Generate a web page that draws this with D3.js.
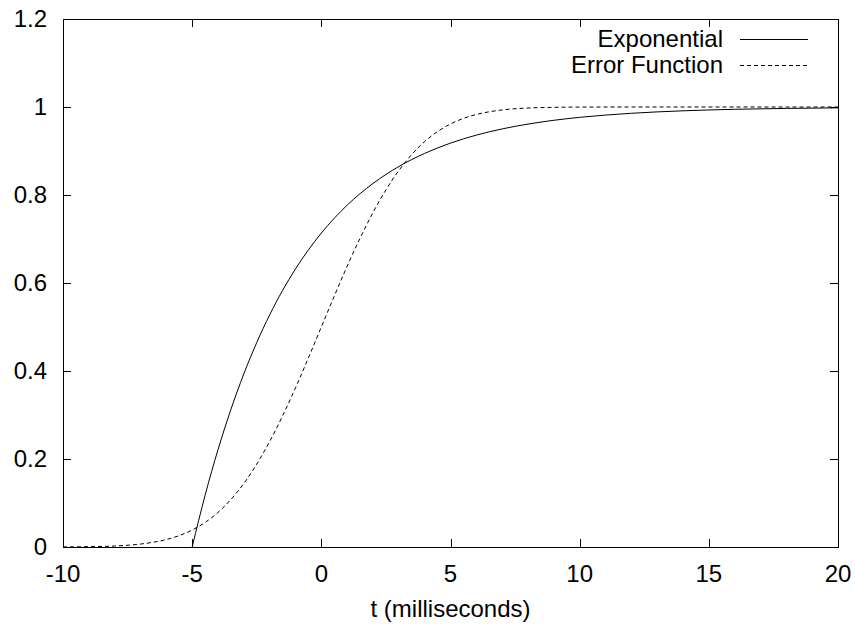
<!DOCTYPE html>
<html>
<head>
<meta charset="utf-8">
<script src="https://cdn.jsdelivr.net/npm/d3@7"></script>
<style>
  html, body { margin: 0; padding: 0; background: #fff; }
  svg { display: block; }
  text { font-family: "Liberation Sans", Arial, Helvetica, sans-serif; fill: #000; }
</style>
</head>
<body>
<svg id="chart" width="855" height="624"></svg>
<script>
// Time axis samples (milliseconds) and the two step responses
const expT = [-5, -4.5, -4, -3.5, -3, -2.5, -2, -1.5, -1, -0.5, 0, 1, 2, 3, 4, 5, 6, 7, 8, 9, 10, 12, 14, 16, 18, 20];
const expY = [0, 0.1175, 0.2212, 0.3127, 0.3935, 0.4647, 0.5276, 0.5831, 0.6321, 0.6753, 0.7135, 0.7769, 0.8262, 0.8647, 0.8946, 0.9179, 0.9361, 0.9502, 0.9612, 0.9698, 0.9765, 0.9857, 0.9913, 0.9948, 0.9968, 0.9981];

const erfT = [-10, -9, -8, -7, -6, -5.5, -5, -4.5, -4, -3.5, -3, -2.5, -2, -1.5, -1, -0.5, 0, 0.5, 1, 1.5, 2, 2.5, 3, 3.5, 4, 4.5, 5, 5.5, 6, 7, 8, 9, 10, 12, 14, 16, 18, 20];
const erfY = [0.0002, 0.0008, 0.0023, 0.0067, 0.0170, 0.0259, 0.0386, 0.0558, 0.0786, 0.1080, 0.1444, 0.1884, 0.2398, 0.2981, 0.3618, 0.4299, 0.5, 0.5701, 0.6382, 0.7019, 0.7602, 0.8116, 0.8556, 0.8920, 0.9214, 0.9442, 0.9614, 0.9741, 0.9830, 0.9933, 0.9977, 0.9992, 0.9998, 1.0, 1.0, 1.0, 1.0, 1.0];

const xTicks = [-10, -5, 0, 5, 10, 15, 20];
const yTicks = [0, 0.2, 0.4, 0.6, 0.8, 1, 1.2];
const seriesNames = ["Exponential", "Error Function"];
const xTitle = "t (milliseconds)";

const svg = d3.select("#chart");
const plotLeft = 63, plotRight = 838, plotTop = 19, plotBottom = 547;
const fontSize = 24;
const tickLen = 8;

const x = d3.scaleLinear().domain([-10, 20]).range([plotLeft, plotRight]);
const y = d3.scaleLinear().domain([0, 1.2]).range([plotBottom, plotTop]);

// Plain hyphen-minus for negative tick values
const fmt = d => String(d);

const g = svg.append("g");

// Tick marks pointing inward on all four sides
const ticks = g.append("g").attr("stroke", "#000").attr("stroke-width", 1).attr("shape-rendering", "crispEdges");
xTicks.forEach(v => {
  const px = Math.round(x(v)) + 0.5;
  ticks.append("line").attr("x1", px).attr("x2", px).attr("y1", plotBottom).attr("y2", plotBottom - tickLen);
  ticks.append("line").attr("x1", px).attr("x2", px).attr("y1", plotTop).attr("y2", plotTop + tickLen);
});
yTicks.forEach(v => {
  const py = Math.round(y(v)) + 0.5;
  ticks.append("line").attr("x1", plotLeft).attr("x2", plotLeft + tickLen).attr("y1", py).attr("y2", py);
  ticks.append("line").attr("x1", plotRight).attr("x2", plotRight - tickLen).attr("y1", py).attr("y2", py);
});

// Tick labels
g.append("g").selectAll("text").data(xTicks).join("text")
  .attr("x", d => x(d)).attr("y", 582)
  .attr("text-anchor", "middle").attr("font-size", fontSize)
  .text(fmt);
g.append("g").selectAll("text").data(yTicks).join("text")
  .attr("x", 47).attr("y", d => y(d)).attr("dy", "0.35em")
  .attr("text-anchor", "end").attr("font-size", fontSize)
  .text(fmt);

// Axis title
g.append("text").attr("x", (plotLeft + plotRight) / 2).attr("y", 617)
  .attr("text-anchor", "middle").attr("font-size", fontSize).text(xTitle);

// Curves
const line = d3.line().x(d => x(d[0])).y(d => y(d[1])).curve(d3.curveMonotoneX);
const expData = expT.map((t, i) => [t, expY[i]]);
const erfData = erfT.map((t, i) => [t, erfY[i]]);

const styles = [
  { data: expData, dash: null },
  { data: erfData, dash: "4,3" }
];

styles.forEach(s => {
  g.append("path").datum(s.data)
    .attr("d", line)
    .attr("fill", "none").attr("stroke", "#000").attr("stroke-width", 1)
    .attr("stroke-dasharray", s.dash);
});

// Legend in the upper right corner
const legendBaselines = [47, 73];
seriesNames.forEach((name, i) => {
  const by = legendBaselines[i];
  g.append("text").attr("x", 723).attr("y", by)
    .attr("text-anchor", "end").attr("font-size", fontSize).text(name);
  const ly = Math.round(by - fontSize * 0.35) + 0.5;
  g.append("line").attr("x1", 740).attr("x2", 808).attr("y1", ly).attr("y2", ly)
    .attr("stroke", "#000").attr("stroke-width", 1)
    .attr("stroke-dasharray", styles[i].dash);
});

// Plot frame
g.append("rect")
  .attr("x", plotLeft + 0.5).attr("y", plotTop + 0.5)
  .attr("width", plotRight - plotLeft).attr("height", plotBottom - plotTop)
  .attr("fill", "none").attr("stroke", "#000").attr("stroke-width", 1)
  .attr("shape-rendering", "crispEdges");
</script>
</body>
</html>
